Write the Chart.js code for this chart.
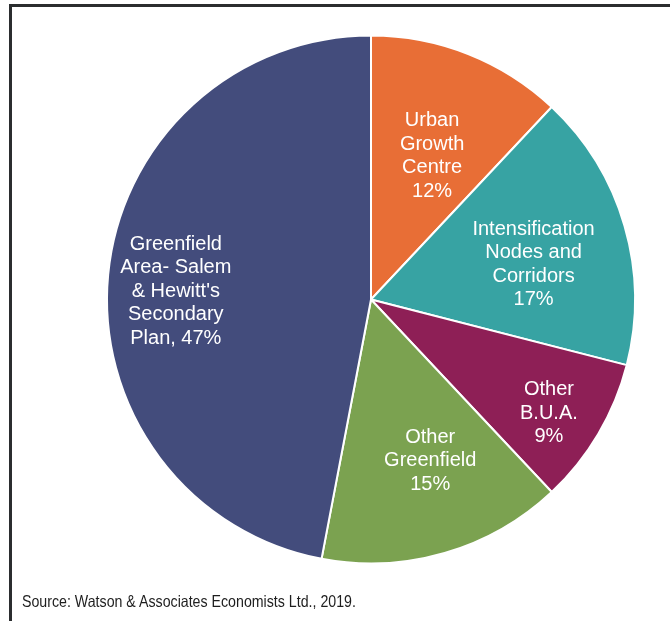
<!DOCTYPE html>
<html>
<head>
<meta charset="utf-8">
<script src="https://cdn.jsdelivr.net/npm/chart.js@4.4.1/dist/chart.umd.min.js"></script>
<style>
  html, body { margin: 0; padding: 0; background: #fff; }
  #wrap { position: relative; width: 670px; height: 621px; overflow: hidden; }
  #frame { position: absolute; left: 9px; top: 4px; width: 700px; height: 700px;
           border-top: 3px solid #2b2d2f; border-left: 3px solid #2b2d2f; }
  #pie { position: absolute; left: 0; top: 0; }
  #source { position: absolute; left: 22px; top: 592px; font-family: "Liberation Sans", Arial, sans-serif;
            font-size: 16.5px; color: #1e1e1e; white-space: nowrap;
            transform: scaleX(0.86); transform-origin: left top; }
</style>
</head>
<body>
<div id="wrap">
  <div id="frame"></div>
  <canvas id="pie" width="670" height="621"></canvas>
  <div id="source">Source: Watson &amp; Associates Economists Ltd., 2019.</div>
</div>
<script>
// slices clockwise from 12 o'clock
var labels = ["Urban Growth Centre", "Intensification Nodes and Corridors", "Other B.U.A.", "Other Greenfield", "Greenfield Area- Salem & Hewitt's Secondary Plan"];
var shares = [12, 17, 9, 15, 47];
// how each label is written inside its slice
var labelLines = [
  ["Urban", "Growth", "Centre", "12%"],
  ["Intensification", "Nodes and", "Corridors", "17%"],
  ["Other", "B.U.A.", "9%"],
  ["Other", "Greenfield", "15%"],
  ["Greenfield", "Area- Salem", "& Hewitt's", "Secondary", "Plan, 47%"]
];
var colors = ["#e86e36", "#37a3a3", "#8e1f56", "#7ba250", "#434c7c"];

// radius fraction + angle nudge (deg) for label placement
var labelPos = [[0.59, 1.5], [0.63, 4], [0.80, 2], [0.65, -4], [0.74, -3]];

var sliceLabels = {
  id: 'sliceLabels',
  afterDatasetsDraw: function(chart) {
    var ctx = chart.ctx;
    var meta = chart.getDatasetMeta(0);
    ctx.save();
    ctx.fillStyle = '#fff';
    ctx.font = '20px "Liberation Sans", Arial, sans-serif';
    ctx.textAlign = 'center';
    ctx.textBaseline = 'middle';
    meta.data.forEach(function(arc, i) {
      var mid = (arc.startAngle + arc.endAngle) / 2 + labelPos[i][1] * Math.PI / 180;
      var r = arc.outerRadius * labelPos[i][0];
      var x = arc.x + Math.cos(mid) * r;
      var y = arc.y + Math.sin(mid) * r;
      var lines = labelLines[i];
      var lh = 23.5;
      lines.forEach(function(t, k) {
        ctx.fillText(t, x, y + (k - (lines.length - 1) / 2) * lh);
      });
    });
    ctx.restore();
  }
};

var ctx = document.getElementById('pie').getContext('2d');
var chart = new Chart(ctx, {
  type: 'pie',
  data: {
    labels: labels,
    datasets: [{
      data: shares,
      backgroundColor: colors,
      borderColor: '#ffffff',
      borderWidth: 2
    }]
  },
  options: {
    responsive: false,
    animation: false,
    layout: { padding: { left: 106, right: 34, top: 34, bottom: 56 } },
    plugins: {
      legend: { display: false },
      tooltip: { enabled: false }
    }
  },
  plugins: [sliceLabels]
});
</script>
</body>
</html>
